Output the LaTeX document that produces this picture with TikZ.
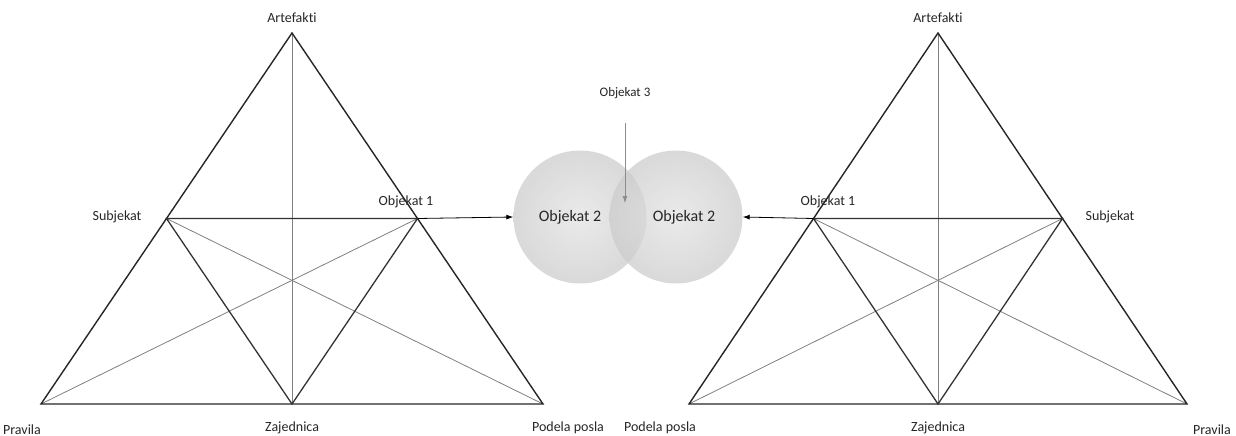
\documentclass[tikz,border=0pt]{standalone}
\usepackage{fontspec}
\setmainfont[Ligatures=NoCommon]{Carlito}
\usetikzlibrary{arrows.meta}
\begin{document}
\begin{tikzpicture}[x=1pt,y=-1pt,
  outer/.style={draw=black!85,line width=1.4pt},
  inner/.style={draw=black!80,line width=1.3pt},
  thin/.style={draw=black!50,line width=0.8pt},
  lbl/.style={font=\fontsize{14}{16}\selectfont,text=black!85,inner sep=0pt},
  blob/.style={circle,minimum size=133pt,inner sep=0pt,fill opacity=0.75,
    inner color=gray!22,outer color=gray!40,
    font=\fontsize{16}{18}\selectfont,text opacity=1,text=black!85},
  conn/.style={draw=black,line width=0.8pt,-{Latex[length=7pt,width=5pt]}},
  gconn/.style={draw=black!45,line width=0.8pt,-{Latex[length=7pt,width=5pt]}}]
\useasboundingbox (0,0) rectangle (1236,436);

% left triangle vertices
\coordinate (LA) at (292,33);
\coordinate (LP) at (41,404);
\coordinate (LD) at (543,404);
\coordinate (LZ) at (292,404);
\coordinate (LS) at (166.5,218.5);
\coordinate (LO) at (417.5,218.5);

% right triangle vertices
\coordinate (RA) at (938,33);
\coordinate (RD) at (689,404);
\coordinate (RP) at (1187,404);
\coordinate (RZ) at (938,404);
\coordinate (RO) at (813.5,218.5);
\coordinate (RS) at (1062.5,218.5);

% left triangle: thin guides, then outline and medial triangle
\draw[thin] (LA) -- (LZ);
\draw[thin] (LS) -- (LD);
\draw[thin] (LO) -- (LP);
\draw[outer] (LA) -- (LP) -- (LD) -- cycle;
\draw[inner] (LS) -- (LO) -- (LZ) -- cycle;

% right triangle
\draw[thin] (RA) -- (RZ);
\draw[thin] (RO) -- (RP);
\draw[thin] (RS) -- (RD);
\draw[outer] (RA) -- (RD) -- (RP) -- cycle;
\draw[inner] (RO) -- (RS) -- (RZ) -- cycle;

% overlapping objects
\node[blob] (C1) at (580,217) {};
\node[blob] (C2) at (676,217) {};
\node[lbl,font=\fontsize{16}{18}\selectfont] (T1) at (570,217) {Objekat 2};
\node[lbl,font=\fontsize{16}{18}\selectfont] (T2) at (684,217) {Objekat 2};

% connectors
\draw[conn] (LO) -- (C1.west);
\draw[conn] (RO) -- (C2.east);
\node[lbl,font=\fontsize{13}{15}\selectfont] (O3) at (625,93) {Objekat 3};
\coordinate (O3tip) at (625,203);
\draw[gconn] (625,123) -- (O3tip);

% labels, left
\node[lbl] (lArt) at (292,18) {Artefakti};
\node[lbl] (lSub) at (117,217) {Subjekat};
\node[lbl] (lObj) at (406,202) {Objekat 1};
\node[lbl] (lPra) at (22,430) {Pravila};
\node[lbl] (lZaj) at (292,428) {Zajednica};
\node[lbl] (lPod) at (568,428) {Podela posla};

% labels, right
\node[lbl] (rArt) at (938,18) {Artefakti};
\node[lbl] (rObj) at (828,202) {Objekat 1};
\node[lbl] (rSub) at (1110,217) {Subjekat};
\node[lbl] (rPod) at (660,428) {Podela posla};
\node[lbl] (rZaj) at (938,428) {Zajednica};
\node[lbl] (rPra) at (1212,430) {Pravila};
\end{tikzpicture}
\end{document}
